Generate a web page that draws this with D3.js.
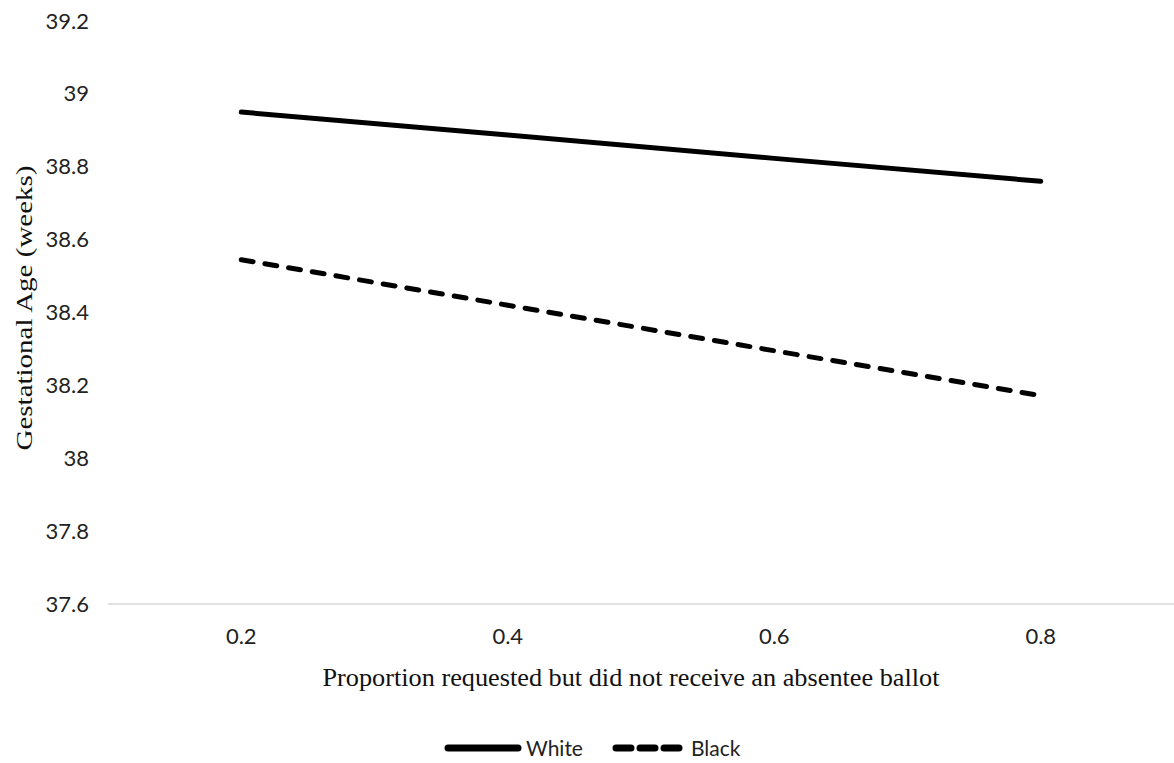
<!DOCTYPE html>
<html><head><meta charset="utf-8">
<script src="https://cdn.jsdelivr.net/npm/d3@7/dist/d3.min.js"></script>
<style>body{margin:0;background:#fff}</style>
</head><body>
<svg id="c" width="1174" height="763"></svg>
<script>
const categories = ["0.2", "0.4", "0.6", "0.8"];
const white = [38.95, 38.887, 38.823, 38.76];
const black = [38.545, 38.42, 38.295, 38.172];
const yTicks = [37.6, 37.8, 38, 38.2, 38.4, 38.6, 38.8, 39, 39.2];
const seriesNames = ["White", "Black"];

(function () {
const svg = d3.select("#c");
const mLeft = 108, mRight = 1174, mTop = 21, mBottom = 604;
const x = d3.scaleBand().domain(categories).range([mLeft, mRight]);
const y = d3.scaleLinear().domain([37.6, 39.2]).range([mBottom, mTop]);
const tickFont = "Lato, 'Open Sans', sans-serif";

// baseline
svg.append("line").attr("x1", mLeft).attr("x2", mRight)
  .attr("y1", y(37.6)).attr("y2", y(37.6))
  .attr("stroke", "#d9d9d9").attr("stroke-width", 1.5);

// y axis
const yAxis = d3.axisLeft(y).tickValues(yTicks).tickSize(0).tickPadding(0)
  .tickFormat(d => String(+d.toFixed(1)));
const ya = svg.append("g").attr("transform", "translate(89,0)").call(yAxis);
ya.select(".domain").remove();
ya.selectAll("text").attr("font-family", tickFont).attr("font-size", 22).attr("fill", "#222");

// x axis
const xAxis = d3.axisBottom(x).tickSize(0).tickPadding(0);
const xa = svg.append("g").attr("transform", `translate(0,${mBottom + 24})`).call(xAxis);
xa.select(".domain").remove();
xa.selectAll("text").attr("font-family", tickFont).attr("font-size", 22).attr("fill", "#222");

// titles
svg.append("text").attr("x", 631).attr("y", 686).attr("text-anchor", "middle")
  .attr("font-family", "'Liberation Serif', 'Times New Roman', serif").attr("font-size", 26)
  .attr("textLength", 617).attr("lengthAdjust", "spacingAndGlyphs")
  .attr("fill", "#111").text("Proportion requested but did not receive an absentee ballot");
svg.append("text").attr("transform", "translate(32,308) rotate(-90)").attr("text-anchor", "middle")
  .attr("font-family", "'Liberation Serif', 'Times New Roman', serif").attr("font-size", 24)
  .attr("textLength", 285).attr("lengthAdjust", "spacingAndGlyphs")
  .attr("fill", "#111").text("Gestational Age (weeks)");

const line = d3.line().x((d, i) => x(categories[i]) + x.bandwidth() / 2).y(d => y(d));
svg.append("path").datum(white).attr("d", line).attr("fill", "none")
  .attr("stroke", "#000").attr("stroke-width", 5).attr("stroke-linecap", "round");
svg.append("path").datum(black).attr("d", line).attr("fill", "none")
  .attr("stroke", "#000").attr("stroke-width", 5).attr("stroke-linecap", "round")
  .attr("stroke-dasharray", "12,12");

// legend
const lg = svg.append("g");
lg.append("line").attr("x1", 448).attr("x2", 518).attr("y1", 748).attr("y2", 748)
  .attr("stroke", "#000").attr("stroke-width", 7).attr("stroke-linecap", "round");
lg.append("text").attr("x", 526).attr("y", 748).attr("dy", "0.36em").attr("font-family", tickFont).attr("font-size", 21)
  .attr("fill", "#222").text(seriesNames[0]);
lg.append("line").attr("x1", 616).attr("x2", 680).attr("y1", 748).attr("y2", 748)
  .attr("stroke", "#000").attr("stroke-width", 7).attr("stroke-linecap", "round")
  .attr("stroke-dasharray", "15,9");
lg.append("text").attr("x", 691).attr("y", 748).attr("dy", "0.36em").attr("font-family", tickFont).attr("font-size", 21)
  .attr("fill", "#222").text(seriesNames[1]);
})();
</script>
</body></html>
